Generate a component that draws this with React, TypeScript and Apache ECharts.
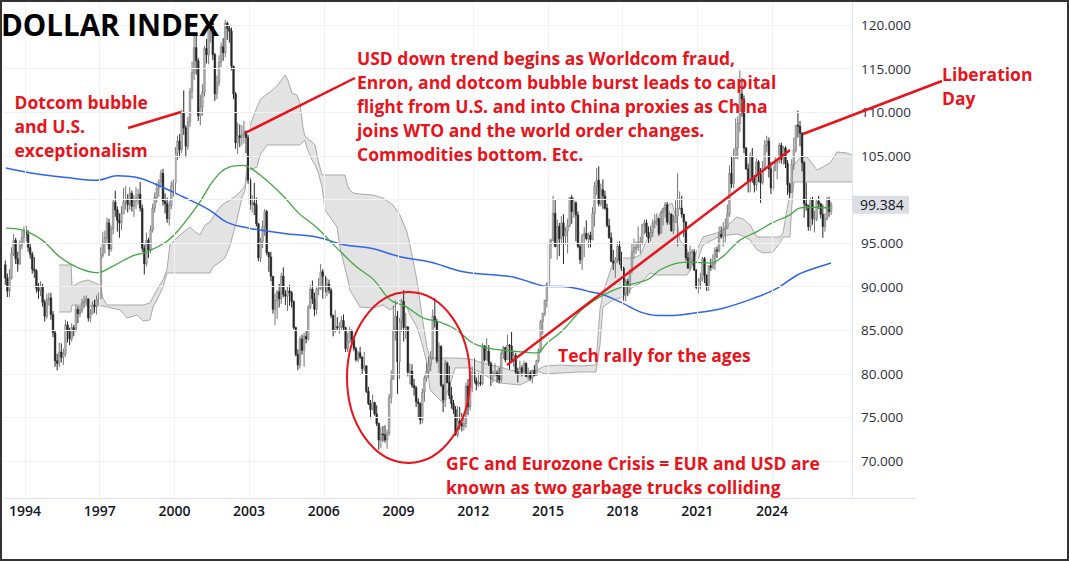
import React, { useEffect, useRef } from "react";
import * as echarts from "echarts";

// ---------- data ----------
const FIRST_YEAR = 1993;
const FIRST_MONTH = 3; // first monthly bar: March 1993
const FIRST_OPEN = 92.5;

// monthly closes
const closes: number[] = [
  // 1993 (Mar-Dec)
  91.0, 89.5, 91.0, 93.8, 95.3, 93.2, 92.6, 94.7, 95.6, 96.4,
  // 1994
  96.0, 94.5, 93.7, 92.0, 91.8, 89.8, 89.5, 90.0, 88.2, 86.6, 88.5, 88.7,
  // 1995
  86.8, 84.7, 81.5, 81.2, 82.5, 81.9, 82.3, 85.6, 84.9, 84.0, 85.3, 85.0,
  // 1996
  87.4, 86.9, 87.3, 88.1, 88.3, 88.6, 86.4, 86.9, 87.9, 87.7, 88.5, 88.6,
  // 1997
  93.6, 95.0, 95.6, 97.3, 94.3, 96.6, 99.7, 98.8, 97.6, 97.3, 98.4, 99.7,
  // 1998
  99.9, 99.4, 100.7, 99.2, 99.8, 100.2, 100.6, 99.0, 94.4, 92.6, 95.3, 94.2,
  // 1999
  96.5, 99.0, 100.2, 101.3, 102.0, 103.0, 99.8, 99.5, 97.8, 99.3, 101.6, 101.9,
  // 2000
  105.3, 106.7, 105.7, 109.9, 108.2, 106.1, 108.9, 112.4, 114.5, 117.4, 115.9, 109.6,
  // 2001
  110.6, 112.3, 117.3, 116.6, 119.6, 120.2, 116.6, 112.1, 113.4, 115.7, 117.5, 116.8,
  // 2002
  120.2, 119.6, 119.3, 115.3, 112.1, 106.5, 107.3, 107.1, 107.4, 107.8, 107.1, 102.2,
  // 2003
  99.4, 99.6, 99.4, 97.2, 93.3, 95.2, 96.9, 98.6, 93.9, 93.4, 91.2, 87.4,
  // 2004
  88.4, 89.4, 88.6, 91.2, 89.1, 88.9, 89.5, 89.3, 88.3, 85.3, 82.2, 81.0,
  // 2005
  84.0, 82.7, 84.3, 84.0, 87.6, 89.7, 88.6, 87.4, 89.7, 89.8, 91.7, 91.2,
  // 2006
  89.4, 90.3, 89.6, 86.7, 85.0, 85.4, 85.3, 85.4, 86.1, 85.3, 82.9, 83.7,
  // 2007
  84.9, 83.9, 82.9, 81.6, 82.4, 81.9, 80.6, 80.9, 78.0, 76.6, 75.9, 76.7,
  // 2008
  75.4, 74.3, 72.4, 73.1, 73.0, 72.4, 73.2, 77.3, 79.4, 85.0, 86.6, 81.4,
  // 2009
  86.0, 88.3, 85.3, 85.4, 80.2, 80.3, 78.7, 78.4, 76.8, 76.6, 74.7, 77.9,
  // 2010
  79.5, 80.3, 81.0, 81.8, 86.6, 86.0, 81.5, 83.2, 78.7, 77.0, 81.2, 79.0,
  // 2011
  77.5, 76.6, 75.9, 73.0, 74.6, 74.3, 74.0, 74.3, 78.6, 76.2, 78.4, 80.2,
  // 2012
  79.2, 78.8, 79.0, 78.9, 83.2, 81.6, 82.6, 81.2, 79.9, 80.1, 80.1, 79.8,
  // 2013
  79.3, 82.3, 83.0, 81.6, 83.3, 83.2, 81.5, 82.1, 80.2, 79.9, 80.7, 80.2,
  // 2014
  81.2, 79.7, 80.1, 79.5, 80.4, 79.8, 81.5, 82.8, 86.0, 86.9, 88.4, 90.3,
  // 2015
  94.8, 95.3, 98.4, 94.6, 96.9, 95.5, 97.3, 95.8, 96.4, 97.0, 100.2, 98.6,
  // 2016
  99.6, 98.2, 94.6, 93.1, 95.9, 96.1, 95.5, 95.9, 95.4, 98.4, 101.5, 102.2,
  // 2017
  99.5, 101.1, 100.4, 99.0, 97.0, 95.6, 92.9, 92.7, 93.1, 94.6, 93.0, 92.1,
  // 2018
  89.1, 90.6, 90.1, 91.8, 94.0, 94.5, 94.5, 95.1, 95.1, 97.1, 97.3, 96.2,
  // 2019
  95.6, 96.2, 97.3, 97.5, 97.8, 96.1, 98.5, 98.9, 99.4, 97.4, 98.3, 96.4,
  // 2020
  97.4, 98.1, 99.0, 99.0, 98.3, 97.4, 93.3, 92.1, 93.9, 94.0, 91.9, 89.9,
  // 2021
  90.6, 90.9, 93.2, 91.3, 90.0, 92.4, 92.2, 92.6, 94.2, 94.1, 96.0, 95.7,
  // 2022
  96.5, 96.7, 98.3, 103.0, 101.8, 104.7, 105.9, 108.7, 112.1, 111.5, 105.9, 103.5,
  // 2023
  102.1, 104.9, 102.5, 101.7, 104.3, 102.9, 101.9, 103.6, 106.2, 106.7, 103.5, 101.3,
  // 2024
  103.3, 104.2, 104.5, 106.2, 104.6, 105.9, 104.1, 101.7, 100.8, 104.0, 105.7, 108.5,
  // 2025
  108.4, 107.6, 104.2, 99.5, 99.3, 96.9, 100.0, 97.8, 97.8, 99.8, 99.5, 98.3,
  // 2026 (Jan-May)
  96.9, 97.8, 99.9, 98.6, 99.384,
];

// monthly highs
const highs: number[] = [
  93.0, 91.5, 92.0, 94.5, 96.0, 95.6, 94.0, 95.3, 96.4, 96.9,
  97.0, 96.5, 95.0, 94.0, 93.4, 92.0, 90.4, 90.6, 90.3, 88.5, 89.2, 89.3,
  89.3, 87.2, 85.0, 82.3, 83.6, 83.5, 82.9, 86.2, 86.0, 85.3, 85.8, 85.6,
  87.9, 87.8, 87.8, 88.6, 88.9, 89.0, 88.6, 87.4, 88.3, 88.5, 89.0, 89.3,
  94.5, 96.3, 96.4, 97.9, 97.8, 97.0, 100.0, 101.0, 99.2, 98.4, 99.2, 101.3,
  101.5, 100.6, 101.4, 101.0, 100.5, 101.4, 101.2, 102.0, 99.4, 94.8, 96.2, 95.6,
  97.0, 99.5, 100.8, 101.9, 102.3, 103.4, 103.5, 100.7, 100.2, 99.8, 102.1, 102.3,
  106.0, 107.3, 107.5, 110.3, 112.5, 108.5, 109.5, 112.8, 115.8, 119.1, 118.9, 116.2,
  112.0, 113.2, 117.6, 118.4, 120.0, 120.8, 121.0, 116.8, 114.2, 116.5, 118.0, 118.5,
  120.6, 120.4, 120.0, 119.7, 115.3, 112.3, 108.8, 108.6, 108.5, 109.0, 107.9, 107.4,
  102.5, 100.5, 101.9, 100.2, 97.3, 95.6, 97.6, 98.9, 98.8, 94.0, 94.0, 91.2,
  89.2, 89.6, 90.3, 91.6, 92.2, 89.6, 90.0, 90.2, 89.5, 88.4, 85.4, 82.8,
  84.3, 84.5, 84.7, 85.0, 87.9, 90.2, 90.7, 89.3, 89.9, 91.0, 92.6, 92.0,
  91.2, 91.0, 90.8, 89.8, 86.8, 87.3, 86.5, 85.9, 86.6, 86.8, 85.4, 84.7,
  85.4, 85.1, 84.2, 83.1, 82.6, 83.1, 82.0, 82.5, 81.0, 78.5, 77.0, 77.6,
  76.8, 76.4, 74.4, 73.9, 74.0, 74.1, 73.6, 77.7, 80.4, 87.8, 88.4, 87.2,
  86.4, 88.6, 89.6, 87.0, 85.4, 81.2, 81.1, 79.4, 78.6, 77.2, 76.7, 78.3,
  79.8, 81.3, 82.0, 82.6, 87.4, 88.7, 86.3, 83.6, 83.2, 78.8, 81.6, 81.4,
  80.9, 78.5, 77.0, 76.3, 76.3, 76.2, 75.5, 75.0, 79.0, 79.4, 79.6, 80.8,
  81.8, 79.6, 80.1, 79.9, 83.5, 83.3, 84.1, 83.3, 81.4, 80.4, 81.2, 80.4,
  80.7, 82.6, 83.2, 83.1, 84.5, 83.4, 84.8, 82.6, 82.4, 80.7, 81.5, 81.0,
  81.5, 81.3, 80.7, 80.4, 80.5, 81.0, 81.6, 82.9, 86.2, 87.0, 88.5, 90.5,
  95.5, 95.5, 100.4, 100.0, 97.7, 97.3, 98.1, 98.3, 96.8, 97.8, 100.3, 100.5,
  100.2, 99.8, 98.6, 95.0, 96.0, 96.8, 97.6, 96.2, 96.3, 99.1, 102.0, 103.6,
  103.8, 101.8, 102.3, 101.0, 99.5, 97.8, 96.2, 94.2, 93.4, 95.1, 95.2, 94.0,
  92.3, 90.9, 90.9, 92.0, 95.0, 95.5, 95.2, 96.9, 95.7, 97.2, 97.7, 97.7,
  96.9, 97.0, 97.7, 98.3, 98.4, 97.8, 98.7, 99.0, 99.7, 99.7, 98.6, 98.4,
  98.2, 99.9, 103.0, 100.9, 100.4, 98.3, 97.5, 93.9, 94.7, 94.3, 94.3, 92.0,
  91.0, 91.6, 93.4, 93.4, 91.4, 92.4, 93.2, 93.7, 94.5, 94.6, 96.9, 96.9,
  97.4, 97.8, 99.4, 103.9, 105.0, 105.8, 109.3, 109.5, 114.8, 113.9, 111.9, 106.0,
  104.1, 105.4, 105.9, 102.8, 104.7, 104.5, 103.6, 104.4, 106.8, 107.3, 107.1, 104.3,
  103.8, 104.9, 104.7, 106.5, 106.5, 106.1, 106.1, 104.5, 101.9, 104.6, 107.1, 108.5,
  110.2, 109.0, 107.7, 104.4, 101.9, 99.4, 100.2, 100.3, 98.7, 99.9, 100.4, 99.6,
  99.4, 98.4, 100.3, 100.3, 99.7,
];

// monthly lows
const lows: number[] = [
  90.2, 88.8, 88.8, 90.8, 93.5, 92.6, 91.7, 92.5, 94.3, 95.0,
  95.2, 94.0, 93.2, 91.5, 91.0, 89.3, 88.6, 88.9, 87.7, 86.0, 86.3, 87.8,
  86.2, 84.2, 80.8, 80.4, 80.8, 81.3, 81.0, 82.0, 83.6, 83.3, 83.7, 84.3,
  84.8, 85.8, 86.5, 87.0, 87.5, 87.9, 86.0, 85.9, 86.8, 87.0, 86.8, 87.9,
  88.6, 93.3, 93.8, 94.8, 93.5, 94.0, 96.0, 98.0, 96.3, 95.6, 96.5, 98.3,
  98.8, 98.5, 98.8, 98.6, 98.0, 98.9, 99.4, 98.6, 94.0, 91.4, 92.3, 93.3,
  93.8, 96.2, 98.5, 99.6, 100.3, 101.5, 99.3, 98.4, 97.3, 97.0, 98.9, 100.3,
  100.8, 104.5, 104.8, 105.3, 107.4, 104.8, 105.7, 108.3, 111.5, 113.7, 114.3, 109.0,
  108.5, 109.6, 111.8, 115.6, 115.5, 118.0, 116.0, 111.3, 111.5, 113.0, 115.2, 115.9,
  116.3, 118.3, 118.0, 114.8, 111.5, 105.8, 105.2, 106.0, 106.2, 106.4, 105.3, 101.8,
  98.8, 98.5, 98.2, 96.9, 92.9, 92.8, 94.4, 95.8, 93.6, 91.7, 90.6, 86.9,
  85.6, 86.3, 87.6, 88.0, 88.8, 87.9, 87.2, 87.8, 87.6, 85.1, 82.0, 80.4,
  80.6, 82.2, 80.8, 83.5, 83.8, 87.4, 88.0, 86.6, 86.8, 89.0, 89.6, 88.6,
  88.6, 88.9, 89.2, 86.4, 84.3, 84.7, 84.9, 84.6, 84.9, 85.0, 82.5, 82.5,
  83.5, 83.4, 82.6, 81.4, 81.3, 81.7, 80.0, 80.3, 77.8, 76.4, 74.9, 75.8,
  75.2, 74.0, 71.3, 71.5, 72.2, 72.1, 71.4, 72.9, 76.6, 79.3, 83.8, 77.7,
  79.4, 84.8, 83.7, 84.0, 79.7, 78.8, 78.4, 77.5, 76.2, 74.9, 74.2, 74.3,
  76.8, 79.1, 79.6, 80.3, 81.6, 85.3, 81.2, 80.1, 78.5, 75.6, 76.2, 78.9,
  77.1, 76.0, 75.4, 72.9, 72.7, 73.6, 73.4, 73.5, 73.8, 75.3, 75.8, 77.9,
  78.9, 78.1, 78.5, 78.6, 78.7, 81.4, 81.5, 80.9, 78.6, 79.0, 79.7, 79.0,
  78.9, 79.0, 81.7, 81.3, 81.6, 80.5, 81.3, 80.8, 79.9, 79.0, 80.0, 79.7,
  80.2, 79.6, 79.3, 79.2, 78.9, 79.7, 79.9, 81.3, 82.4, 84.5, 86.6, 87.6,
  90.0, 93.2, 95.2, 94.5, 93.1, 93.5, 94.8, 92.6, 94.8, 93.8, 96.8, 97.2,
  97.9, 95.2, 94.4, 92.6, 91.9, 93.4, 95.3, 94.4, 94.5, 95.3, 96.9, 100.5,
  99.2, 99.2, 98.9, 98.8, 96.8, 95.5, 92.8, 91.9, 91.0, 92.7, 92.5, 91.8,
  88.4, 88.3, 88.9, 89.2, 91.5, 93.2, 93.7, 94.1, 93.8, 94.8, 96.0, 95.7,
  95.0, 95.2, 95.7, 96.7, 97.0, 95.8, 96.1, 97.0, 97.9, 97.1, 97.1, 96.3,
  96.0, 97.3, 94.6, 98.9, 97.9, 95.7, 93.0, 92.1, 91.8, 92.5, 91.8, 89.7,
  89.2, 89.7, 90.6, 90.4, 89.5, 89.5, 91.8, 92.0, 91.9, 93.3, 93.9, 95.5,
  94.6, 95.1, 96.6, 98.0, 101.3, 101.3, 104.7, 104.6, 107.7, 109.5, 105.3, 103.4,
  100.8, 100.8, 101.9, 100.8, 101.0, 102.0, 99.6, 101.7, 103.3, 105.4, 102.5, 100.6,
  101.0, 103.4, 102.3, 104.1, 104.1, 104.0, 103.6, 100.5, 100.2, 100.8, 103.4, 105.4,
  107.1, 106.1, 103.2, 97.9, 98.7, 96.4, 96.4, 97.1, 96.2, 97.5, 98.9, 97.8,
  95.6, 96.3, 97.6, 98.0, 98.2,
];

// green moving average [year, value]
const greenMA: [number, number][] = [
  [1993.24, 96.7], [1994.0, 96.4], [1994.7, 95.3], [1995.4, 93.4], [1996.1, 92.2],
  [1996.9, 91.6], [1997.5, 92.3], [1998.3, 93.5], [1998.9, 94.0], [1999.7, 95.2],
  [2000.2, 96.6], [2001.0, 99.6], [2001.6, 102.3], [2002.2, 103.7], [2002.75, 103.9],
  [2003.0, 103.7], [2003.7, 102.2], [2004.4, 100.3], [2005.0, 98.4], [2005.7, 96.8],
  [2006.5, 94.5], [2007.3, 92.3], [2008.0, 90.8], [2008.66, 88.5], [2009.3, 87.7],
  [2010.0, 86.4], [2010.7, 85.9], [2011.35, 85.0], [2012.0, 83.5], [2012.7, 82.9],
  [2013.2, 82.7], [2014.0, 82.5], [2014.56, 82.4], [2014.96, 83.5], [2015.6, 85.0],
  [2016.3, 87.2], [2016.7, 88.1], [2017.2, 89.0], [2018.0, 90.0], [2019.0, 90.8],
  [2019.5, 91.9], [2020.2, 92.7], [2020.7, 92.8], [2021.5, 92.7], [2022.0, 93.4],
  [2022.7, 95.3], [2023.4, 96.3], [2024.0, 97.3], [2024.7, 98.2], [2025.1, 99.0],
  [2025.5, 99.1], [2026.37, 99.0],
];

// blue moving average [year, value]
const blueMA: [number, number][] = [
  [1993.24, 103.6], [1994.3, 103.0], [1995.7, 102.5], [1996.9, 102.2], [1997.7, 102.7],
  [1998.5, 102.5], [1999.2, 101.8], [2000.35, 100.3], [2001.4, 98.8], [2002.1, 97.4],
  [2003.0, 96.7], [2004.4, 96.1], [2005.7, 95.7], [2006.8, 94.8], [2007.9, 94.4],
  [2009.1, 93.4], [2010.3, 92.8], [2011.6, 91.7], [2013.0, 91.3], [2013.6, 91.1],
  [2014.3, 90.5], [2015.0, 90.0], [2015.6, 90.0], [2016.3, 89.7], [2016.7, 89.4],
  [2017.2, 89.1], [2018.0, 88.1], [2018.7, 87.1], [2019.4, 86.7], [2020.1, 86.7],
  [2020.7, 86.9], [2022.0, 87.5], [2023.4, 88.8], [2024.2, 89.8], [2025.0, 91.3],
  [2025.5, 91.9], [2026.37, 92.7],
];

// Ichimoku cloud edges
const cloudYears: number[] = [
  1995.37, 1995.85, 1995.89, 1996.21, 1996.53, 1997.01, 1997.13, 1997.29, 1997.82, 1998.10,
  1998.50, 1998.74, 1999.02, 1999.14, 1999.34, 1999.54, 1999.70, 1999.82, 2000.31, 2000.63,
  2000.83, 2001.03, 2001.23, 2001.43, 2001.55, 2001.83, 2002.03, 2002.23, 2002.51, 2002.71,
  2002.84, 2002.92, 2003.04, 2003.32, 2003.44, 2003.52, 2003.72, 2003.84, 2004.16, 2004.44,
  2004.56, 2004.72, 2004.92, 2005.04, 2005.16, 2005.24, 2005.32, 2005.53, 2005.65, 2005.77,
  2005.93, 2006.05, 2006.53, 2006.65, 2006.77, 2006.85, 2006.97, 2007.05, 2007.17, 2007.45,
  2007.98, 2008.38, 2008.66, 2008.78, 2009.06, 2009.34, 2009.46, 2009.74, 2009.94, 2010.14,
  2010.27, 2010.55, 2010.79, 2011.07, 2011.27, 2011.87, 2012.27, 2012.67, 2013.08, 2013.48,
  2013.88, 2014.28, 2014.56, 2014.88, 2015.48, 2016.29, 2016.93, 2017.09, 2017.21, 2017.61,
  2018.02, 2018.42, 2018.71, 2019.10, 2019.38, 2019.62, 2019.98, 2020.18, 2020.30, 2020.59,
  2020.83, 2020.99, 2021.23, 2021.91, 2022.59, 2022.84, 2023.12, 2023.40, 2023.64, 2024.04,
  2024.32, 2024.44, 2024.60, 2024.72, 2024.80, 2024.88, 2025.12, 2025.41, 2025.81, 2026.33,
  2026.61, 2027.01, 2027.21,
];
const cloudUpper: number[] = [
  92.48, 92.48, 89.95, 90.53, 90.76, 90.18, 88.69, 87.89, 87.89, 87.89,
  87.89, 87.89, 88.12, 88.81, 89.84, 90.76, 91.90, 94.77, 96.15, 96.83,
  96.26, 95.92, 97.06, 97.41, 97.98, 99.13, 99.59, 99.93, 100.50, 101.08,
  101.54, 103.94, 108.53, 110.60, 111.40, 111.63, 112.09, 112.32, 113.12, 114.27,
  113.69, 112.20, 111.97, 111.06, 108.30, 107.27, 107.04, 106.58, 106.24, 104.52,
  102.80, 102.80, 102.80, 102.80, 102.80, 102.80, 101.42, 101.08, 100.73, 100.62,
  100.50, 100.16, 99.59, 99.36, 98.21, 96.26, 94.77, 90.76, 86.74, 83.07,
  81.81, 81.81, 81.81, 81.81, 81.81, 81.70, 81.35, 81.01, 80.78, 80.44,
  80.21, 79.98, 80.44, 80.89, 81.01, 80.89, 81.01, 87.32, 89.27, 92.71,
  93.28, 93.28, 93.62, 96.15, 97.64, 99.01, 99.59, 97.64, 95.34, 94.20,
  92.82, 94.20, 95.69, 96.26, 97.98, 97.75, 97.06, 95.69, 95.69, 95.69,
  95.69, 96.15, 98.78, 100.73, 102.80, 103.94, 104.75, 104.86, 103.37, 104.17,
  105.44, 105.32, 105.09,
];
const cloudLower: number[] = [
  87.09, 87.09, 87.89, 87.89, 87.78, 87.78, 87.78, 87.66, 87.32, 86.40,
  86.74, 86.06, 86.17, 87.66, 88.69, 89.95, 91.56, 91.56, 91.56, 91.56,
  91.56, 91.56, 91.56, 91.56, 92.25, 92.82, 93.28, 94.66, 97.64, 100.16,
  101.08, 103.14, 103.37, 103.72, 105.09, 105.44, 106.24, 106.24, 106.24, 106.24,
  106.24, 106.24, 106.24, 106.24, 106.58, 106.81, 105.89, 104.52, 103.94, 103.14,
  101.42, 98.78, 96.83, 94.54, 93.05, 92.13, 90.76, 89.61, 89.04, 87.66,
  87.55, 87.89, 87.32, 87.55, 88.46, 87.66, 86.74, 85.37, 83.53, 81.24,
  78.14, 77.34, 76.65, 78.72, 80.67, 80.67, 80.21, 79.52, 78.94, 78.83,
  78.72, 79.29, 80.32, 79.98, 80.09, 80.21, 80.21, 83.30, 87.66, 88.46,
  88.81, 89.95, 90.41, 91.56, 91.33, 91.33, 91.33, 91.33, 91.33, 91.33,
  92.59, 92.82, 94.77, 95.80, 96.03, 95.80, 95.34, 94.20, 93.85, 93.97,
  95.00, 95.69, 95.69, 95.69, 99.36, 102.00, 102.00, 102.00, 102.00, 102.00,
  102.00, 102.00, 102.00,
];

const xTicks = [1994, 1997, 2000, 2003, 2006, 2009, 2012, 2015, 2018, 2021, 2024];
const yLabelTicks = [70, 75, 80, 85, 90, 95, 105, 110, 115, 120];
const yGridTicks = [70, 75, 80, 85, 90, 95, 100, 105, 110, 115, 120];

// ---------- component ----------
const RED = "#e8131b";
const FONT = '"Open Sans", "Noto Sans", sans-serif';
const ANNOT_FONT = `bold 17.5px ${FONT}`;

export default function App() {
  const ref = useRef<HTMLDivElement | null>(null);

  useEffect(() => {
    if (!ref.current) return;
    const chart = echarts.init(ref.current, undefined, { renderer: "svg" });

    const X_MIN = 1993.1165;
    const X_MAX = 2027.2129;
    const Y_MIN = 65.757;
    const Y_MAX = 122.638;

    const candles = closes.map((c, i) => {
      const o = i === 0 ? FIRST_OPEN : closes[i - 1];
      const x = FIRST_YEAR + (FIRST_MONTH - 1 + i + 0.5) / 12;
      return [x, o, c, lows[i], highs[i]];
    });
    const lastClose = closes[closes.length - 1];

    const option: any = {
      animation: false,
      backgroundColor: "#ffffff",
      textStyle: { fontFamily: FONT },
      grid: {
        left: 3,
        right: 217,
        top: 2,
        bottom: 63,
        containLabel: false,
        outerBoundsMode: "none",
      },
      xAxis: {
        type: "value",
        min: X_MIN,
        max: X_MAX,
        axisLine: { show: true, lineStyle: { color: "#e0e3eb", width: 1 } },
        axisTick: { show: false },
        splitLine: { show: false },
        axisLabel: {
          customValues: xTicks,
          formatter: (v: number) => String(Math.round(v)),
          color: "#131722",
          fontSize: 14,
          fontWeight: 600,
          fontFamily: FONT,
          margin: 5,
        },
      },
      yAxis: {
        type: "value",
        position: "right",
        min: Y_MIN,
        max: Y_MAX,
        scale: true,
        axisLine: { show: true, lineStyle: { color: "#e0e3eb", width: 1 } },
        axisTick: { show: false },
        splitLine: { show: false },
        axisLabel: {
          customValues: yLabelTicks,
          formatter: (v: number) => v.toFixed(3),
          color: "#2a2e39",
          fontSize: 13.5,
          fontFamily: FONT,
          margin: 9,
        },
      },
      series: [
        {
          type: "line",
          name: "gridlines",
          z: 0,
          silent: true,
          symbol: "none",
          data: [[X_MIN + 1, Y_MIN + 1]],
          lineStyle: { opacity: 0 },
          markLine: {
            silent: true,
            symbol: ["none", "none"],
            label: { show: false },
            lineStyle: { color: "#f0f1f3", width: 1, type: "solid" },
            data: [
              ...yGridTicks.map((v) => ({ yAxis: v })),
              ...xTicks.map((v) => ({ xAxis: v })),
            ],
          },
        },
        {
          type: "custom",
          name: "cloud",
          z: 1,
          silent: true,
          clip: true,
          data: [[2000, 90]],
          encode: { x: 0, y: 1 },
          renderItem: (params: any, api: any) => {
            if (params.dataIndex !== 0) return null;
            const up = cloudYears.map((yr, i) => api.coord([yr, cloudUpper[i]]));
            const lo = cloudYears.map((yr, i) => api.coord([yr, cloudLower[i]]));
            return {
              type: "group",
              children: [
                {
                  type: "polygon",
                  shape: { points: [...up, ...lo.slice().reverse()] },
                  style: { fill: "#e3e3e3", stroke: "none" },
                },
                {
                  type: "polyline",
                  shape: { points: up },
                  style: { fill: "none", stroke: "#a9a9a9", lineWidth: 1 },
                },
                {
                  type: "polyline",
                  shape: { points: lo },
                  style: { fill: "none", stroke: "#a9a9a9", lineWidth: 1 },
                },
              ],
            };
          },
        },
        {
          type: "custom",
          name: "DXY",
          z: 2,
          silent: true,
          clip: true,
          data: candles,
          dimensions: ["x", "open", "close", "low", "high"],
          encode: { x: 0, y: [1, 2, 3, 4] },
          renderItem: (params: any, api: any) => {
            const x = api.value(0);
            const o = api.value(1);
            const c = api.value(2);
            const l = Math.min(api.value(3), o, c);
            const h = Math.max(api.value(4), o, c);
            const pO = api.coord([x, o]);
            const pC = api.coord([x, c]);
            const pL = api.coord([x, l]);
            const pH = api.coord([x, h]);
            const up = c >= o;
            const stroke = up ? "#747474" : "#262626";
            const fill = up ? "#b4b4b4" : "#262626";
            const w = 1.7;
            const top = Math.min(pO[1], pC[1]);
            const bh = Math.max(Math.abs(pO[1] - pC[1]), 1);
            return {
              type: "group",
              children: [
                {
                  type: "line",
                  shape: { x1: pH[0], y1: pH[1], x2: pL[0], y2: pL[1] },
                  style: { stroke, lineWidth: 1 },
                },
                {
                  type: "rect",
                  shape: { x: pO[0] - w / 2, y: top, width: w, height: bh },
                  style: { fill, stroke, lineWidth: 0.5 },
                },
              ],
            };
          },
        },
        {
          type: "line",
          name: "MA long",
          z: 3,
          silent: true,
          symbol: "none",
          smooth: 0.4,
          data: blueMA,
          lineStyle: { color: "#2f63f0", width: 1.5 },
        },
        {
          type: "line",
          name: "MA short",
          z: 3,
          silent: true,
          symbol: "none",
          smooth: 0.4,
          data: greenMA,
          lineStyle: { color: "#43a843", width: 1.3 },
        },
      ],
      graphic: [
        {
          id: "title",
          type: "text",
          z: 100,
          x: 1,
          y: 24,
          style: {
            text: "DOLLAR INDEX",
            font: `bold 29.5px ${FONT}`,
            fill: "#000000",
            align: "left",
            verticalAlign: "middle",
          },
        },
        {
          id: "t1",
          type: "text",
          z: 100,
          x: 14.5,
          y: 89.7,
          style: {
            text: "Dotcom bubble\nand U.S.\nexceptionalism",
            font: ANNOT_FONT,
            lineHeight: 24,
            fill: RED,
            align: "left",
            verticalAlign: "top",
          },
        },
        {
          id: "t2",
          type: "text",
          z: 100,
          x: 357,
          y: 45.6,
          style: {
            text:
              "USD down trend begins as Worldcom fraud,\nEnron, and dotcom bubble burst leads to capital\nflight from U.S. and into China proxies as China\njoins WTO and the world order changes.\nCommodities bottom. Etc.",
            font: ANNOT_FONT,
            lineHeight: 24.1,
            fill: RED,
            align: "left",
            verticalAlign: "top",
          },
        },
        {
          id: "t3",
          type: "text",
          z: 100,
          x: 942,
          y: 61.5,
          style: {
            text: "Liberation\nDay",
            font: ANNOT_FONT,
            lineHeight: 24,
            fill: RED,
            align: "left",
            verticalAlign: "top",
          },
        },
        {
          id: "t4",
          type: "text",
          z: 100,
          x: 558,
          y: 355,
          style: {
            text: "Tech rally for the ages",
            font: ANNOT_FONT,
            fill: RED,
            align: "left",
            verticalAlign: "middle",
          },
        },
        {
          id: "t5",
          type: "text",
          z: 100,
          x: 446,
          y: 450.5,
          style: {
            text: "GFC and Eurozone Crisis = EUR and USD are\nknown as two garbage trucks colliding",
            font: ANNOT_FONT,
            lineHeight: 24,
            fill: RED,
            align: "left",
            verticalAlign: "top",
          },
        },
        {
          id: "l1",
          type: "line",
          z: 100,
          shape: { x1: 128, y1: 128, x2: 181, y2: 112 },
          style: { stroke: RED, lineWidth: 2.5 },
        },
        {
          id: "l2",
          type: "line",
          z: 100,
          shape: { x1: 245, y1: 133, x2: 355, y2: 78 },
          style: { stroke: RED, lineWidth: 2.5 },
        },
        {
          id: "l3",
          type: "line",
          z: 100,
          shape: { x1: 507, y1: 365, x2: 790, y2: 150 },
          style: { stroke: RED, lineWidth: 2.5 },
        },
        {
          id: "l4",
          type: "line",
          z: 100,
          shape: { x1: 803, y1: 134, x2: 942, y2: 81 },
          style: { stroke: RED, lineWidth: 2.5 },
        },
        {
          id: "ell",
          type: "ellipse",
          z: 100,
          shape: { cx: 408.5, cy: 377.5, rx: 61.5, ry: 85.5 },
          style: { fill: "rgba(0,0,0,0)", stroke: RED, lineWidth: 2 },
        },
        {
          id: "axisExt",
          type: "line",
          z: 100,
          shape: { x1: 852, y1: 498.5, x2: 917, y2: 498.5 },
          style: { stroke: "#e0e3eb", lineWidth: 1 },
        },
        {
          id: "frame",
          type: "rect",
          z: 100,
          shape: { x: 1, y: 1, width: 1067, height: 559 },
          style: { fill: "rgba(0,0,0,0)", stroke: "#333333", lineWidth: 2 },
        },
      ],
    };

    chart.setOption(option);

    // last-price tag on the price scale, placed through the y axis scale
    const py = chart.convertToPixel({ yAxisIndex: 0 }, lastClose) as number;
    chart.setOption({
      graphic: [
        {
          id: "tagRect",
          type: "rect",
          z: 110,
          shape: { x: 852, y: py - 9, width: 57, height: 18 },
          style: { fill: "#dcdee3", stroke: "none" },
        },
        {
          id: "tagText",
          type: "text",
          z: 111,
          x: 860,
          y: py,
          style: {
            text: lastClose.toFixed(3),
            font: `14px ${FONT}`,
            fill: "#131722",
            align: "left",
            verticalAlign: "middle",
          },
        },
      ],
    });

    return () => {
      chart.dispose();
    };
  }, []);

  return (
    <div
      ref={ref}
      style={{
        position: "fixed",
        left: 0,
        top: 0,
        width: 1069,
        height: 561,
        background: "#ffffff",
      }}
    />
  );
}
